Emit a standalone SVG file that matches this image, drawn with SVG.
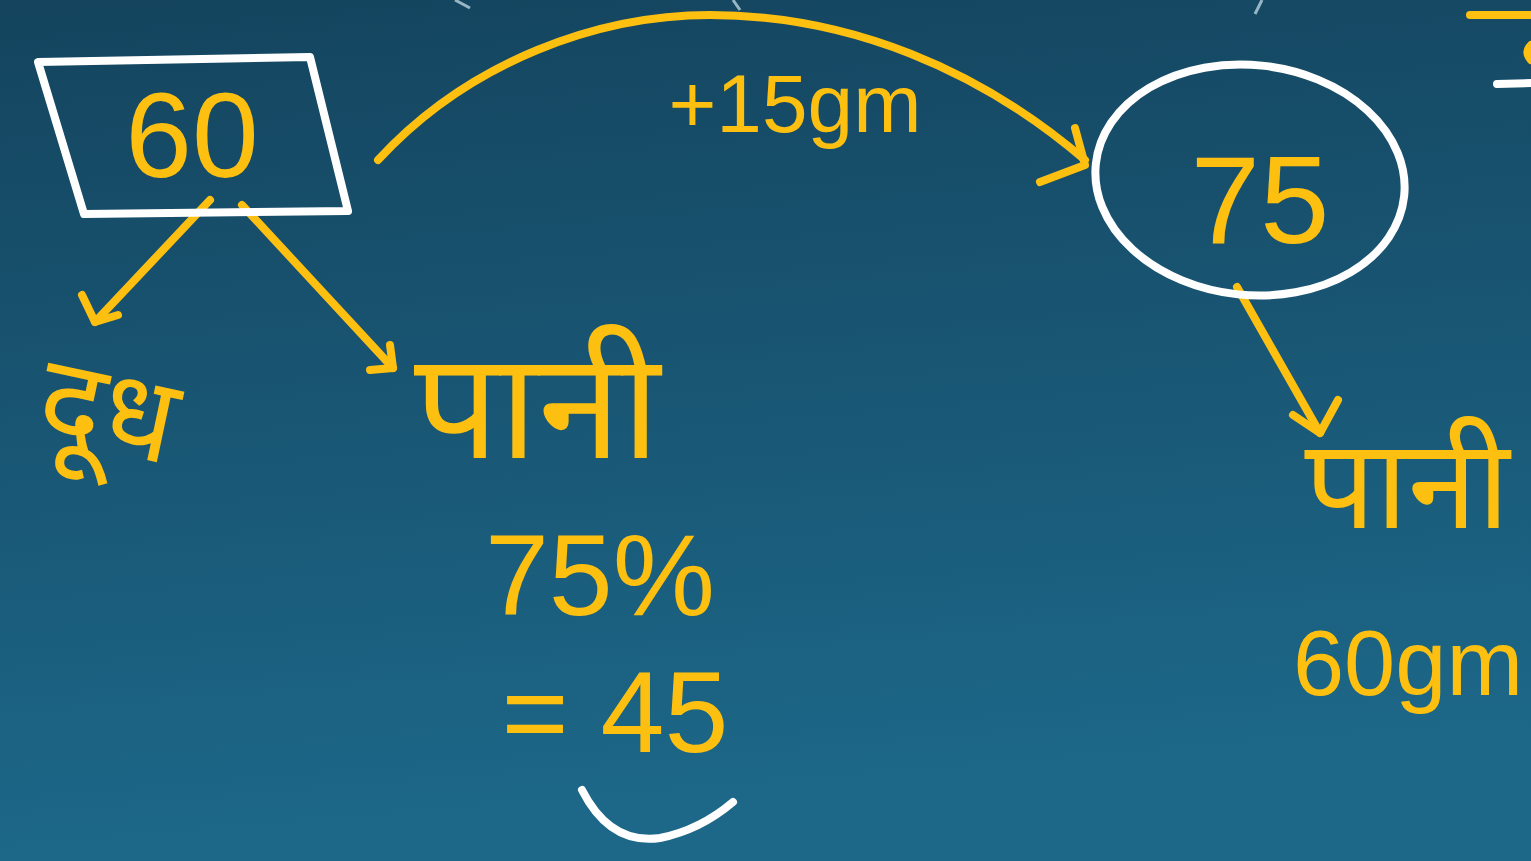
<svg xmlns="http://www.w3.org/2000/svg" width="1531" height="861" viewBox="0 0 1531 861">
<defs>
<linearGradient id="bg" x1="0" y1="0" x2="0.15" y2="1">
<stop offset="0" stop-color="#14445e"/>
<stop offset="1" stop-color="#1d6889"/>
</linearGradient>
<style>
.y{fill:none;stroke:#fdc010;stroke-width:8;stroke-linecap:round;stroke-linejoin:round}
.w{fill:none;stroke:#ffffff;stroke-width:8;stroke-linecap:round;stroke-linejoin:round}
.ty{fill:#fdc010;font-family:"Noto Sans","Noto Sans Devanagari","Lohit Devanagari","Liberation Sans",sans-serif}
.tw{fill:#fdc010;font-family:"Liberation Sans","Noto Sans",sans-serif}
</style>
</defs>
<rect width="1531" height="861" fill="url(#bg)"/>
<g id="edge-marks">
<path d="M455 0 L470 8" stroke="#cfe6f0" stroke-width="3" fill="none" opacity="0.7"/>
<path d="M733 0 L740 10" stroke="#cfe6f0" stroke-width="3" fill="none" opacity="0.7"/>
<path d="M1262 0 L1255 14" stroke="#cfe6f0" stroke-width="3" fill="none" opacity="0.7"/>
<path class="y" d="M1470 15 L1531 15"/>
<path class="y" d="M1531 45 Q1524 52 1531 60"/>
<path class="w" d="M1497 84 L1531 83"/>
</g>
<g id="connectors">
<path class="y" d="M378 160 C470 60 600 15 710 15 C850 15 980 70 1085 160"/>
<path class="y" d="M1040 182 L1085 165 L1075 128"/>
<path class="y" d="M210 200 L95 322"/>
<path class="y" d="M82 295 L95 322 L118 315"/>
<path class="y" d="M242 205 L393 368"/>
<path class="y" d="M370 370 L393 368 L390 345"/>
<path class="y" d="M1237 287 L1320 433"/>
<path class="y" d="M1293 415 L1320 433 L1338 400"/>
</g>
<g id="node-60">
<path class="w" d="M38 62 L310 57 L348 211 L84 214 Z"/>
<text class="tw" x="192" y="177" font-size="120" text-anchor="middle">60</text>
</g>
<g id="node-75">
<ellipse class="w" cx="1250" cy="180" rx="155" ry="115" transform="rotate(6 1250 180)"/>
<text class="tw" x="1260" y="243" font-size="125" text-anchor="middle">75</text>
</g>
<g id="label-plus15">
<text class="tw" x="795" y="132" font-size="82" text-anchor="middle">+15gm</text>
</g>
<g id="label-doodh">
<text class="ty" x="0" y="0" font-size="120" text-anchor="middle" transform="translate(100 450) rotate(12)">दूध</text>
</g>
<g id="label-paani-1">
<text class="ty" x="537" y="458" font-size="150" text-anchor="middle">पानी</text>
</g>
<g id="label-percent">
<text class="tw" x="600" y="615" font-size="115" text-anchor="middle">75%</text>
<text class="tw" x="615" y="752" font-size="115" text-anchor="middle">= 45</text>
<path class="w" d="M582 790 Q610 845 660 838 Q700 830 733 802"/>
</g>
<g id="label-paani-2">
<text class="ty" x="1407" y="528" font-size="125" text-anchor="middle">पानी</text>
</g>
<g id="label-60gm">
<text class="tw" x="1408" y="695" font-size="92" text-anchor="middle">60gm</text>
</g>
</svg>
